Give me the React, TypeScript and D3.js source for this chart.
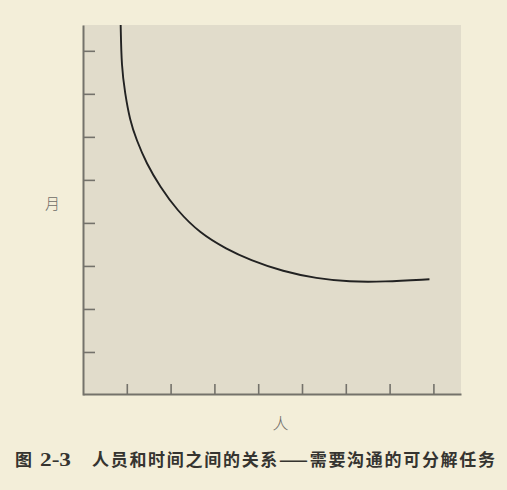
import React, { useEffect, useRef } from 'react';
import * as d3 from 'd3';

// 人数（x）与月数（y）：曲线上读出的点
const people = [0.86, 0.88, 0.96, 1.07, 1.22, 1.45, 1.76, 2.14, 2.67, 3.28, 3.81, 4.57, 5.33, 6.09, 6.85, 7.91];
const months = [8.6, 7.63, 7.01, 6.39, 5.93, 5.38, 4.84, 4.3, 3.76, 3.39, 3.14, 2.87, 2.71, 2.63, 2.63, 2.69];
const xTicks = [1, 2, 3, 4, 5, 6, 7, 8];
const yTicks = [1, 2, 3, 4, 5, 6, 7, 8];

const xLabel = '人';
const yLabel = '月';
const figWord = '图';
const figNo = '2-3';
const caption = '人员和时间之间的关系——需要沟通的可分解任务';

const App = () => {
  const svgRef = useRef<SVGSVGElement>(null);

  useEffect(() => {
    const width = 507;
    const height = 490;
    const left = 83, right = 461, top = 25, bottom = 395;

    const svg = d3.select(svgRef.current)
      .attr('width', width)
      .attr('height', height);
    svg.selectAll('*').remove();

    svg.append('rect')
      .attr('width', width)
      .attr('height', height)
      .attr('fill', '#f3eed9');

    const x = d3.scaleLinear().domain([0, 8.63]).range([left, right]);
    const y = d3.scaleLinear().domain([0, 8.6]).range([bottom, top]);

    svg.append('rect')
      .attr('x', left)
      .attr('y', top)
      .attr('width', right - left)
      .attr('height', bottom - top)
      .attr('fill', '#e1dccb');

    const axisColor = '#74726b';

    const yAxis = svg.append('g')
      .attr('transform', `translate(${left},0)`)
      .call(d3.axisRight(y).tickValues(yTicks).tickSize(12).tickSizeOuter(0).tickFormat(() => ''));
    yAxis.select('.domain').attr('stroke', axisColor).attr('stroke-width', 2);
    yAxis.selectAll('.tick line').attr('stroke', axisColor).attr('stroke-width', 1.6);

    const xAxis = svg.append('g')
      .attr('transform', `translate(0,${bottom - 1})`)
      .call(d3.axisTop(x).tickValues(xTicks).tickSize(10).tickSizeOuter(0).tickFormat(() => ''));
    xAxis.select('.domain').attr('stroke', axisColor).attr('stroke-width', 2);
    xAxis.selectAll('.tick line').attr('stroke', axisColor).attr('stroke-width', 1.6);

    const pts = people.map((p, i) => [p, months[i]] as [number, number]);
    const line = d3.line<[number, number]>()
      .x(d => x(d[0]))
      .y(d => y(d[1]))
      .curve(d3.curveBasis);

    svg.append('path')
      .attr('d', line(pts))
      .attr('fill', 'none')
      .attr('stroke', '#222')
      .attr('stroke-width', 1.9);

    const font = '"Noto Sans CJK SC", "Noto Sans", sans-serif';

    svg.append('text')
      .attr('x', 52.5)
      .attr('y', 209)
      .attr('text-anchor', 'middle')
      .attr('font-family', font)
      .attr('font-size', 15)
      .attr('font-weight', 300)
      .attr('fill', '#6e6c66')
      .text(yLabel);

    svg.append('text')
      .attr('x', 280.5)
      .attr('y', 429)
      .attr('text-anchor', 'middle')
      .attr('font-family', font)
      .attr('font-size', 16)
      .attr('font-weight', 300)
      .attr('fill', '#6e6c66')
      .text(xLabel);

    const capColor = '#353430';

    svg.append('text')
      .attr('x', 15)
      .attr('y', 466)
      .attr('font-family', font)
      .attr('font-size', 17)
      .attr('font-weight', 'bold')
      .attr('fill', capColor)
      .text(figWord);

    svg.append('text')
      .attr('x', 40)
      .attr('y', 466)
      .attr('font-family', '"Liberation Serif", serif')
      .attr('font-size', 19)
      .attr('font-weight', 'bold')
      .attr('fill', capColor)
      .attr('textLength', 31)
      .attr('lengthAdjust', 'spacingAndGlyphs')
      .text(figNo);

    svg.append('text')
      .attr('x', 92)
      .attr('y', 466)
      .attr('font-family', font)
      .attr('font-size', 17)
      .attr('font-weight', 'bold')
      .attr('fill', capColor)
      .attr('textLength', 403)
      .attr('lengthAdjust', 'spacing')
      .text(caption);
  }, []);

  return (
    <svg ref={svgRef} style={{ position: 'absolute', left: 0, top: 0, display: 'block' }}></svg>
  );
};

export default App;
